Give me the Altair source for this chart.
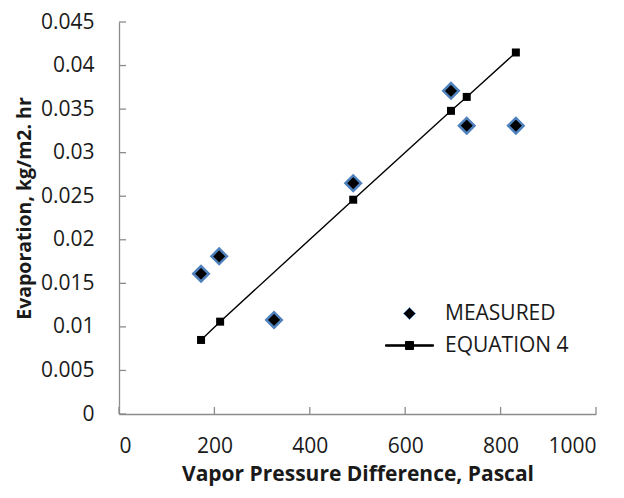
import altair as alt
import pandas as pd

# Measured data
meas_x = [172, 210, 325, 491, 696, 729, 832]
meas_y = [0.0161, 0.0181, 0.0108, 0.0265, 0.0371, 0.0331, 0.0331]

# Equation 4 predictions
eq_x = [172, 212, 491, 696, 729, 832]
eq_y = [0.0085, 0.0106, 0.0246, 0.0348, 0.0364, 0.0415]

series_names = ["MEASURED", "EQUATION 4"]
x_ticks = [0, 200, 400, 600, 800, 1000]
y_ticks = [0, 0.005, 0.01, 0.015, 0.02, 0.025, 0.03, 0.035, 0.04, 0.045]

meas_df = pd.DataFrame({"x": meas_x, "y": meas_y})
eq_df = pd.DataFrame({"x": eq_x, "y": eq_y})
leg_df = pd.DataFrame({"series": series_names})
xt_df = pd.DataFrame({"v": x_ticks})
yt_df = pd.DataFrame({"v": y_ticks})

FONT = "Open Sans"
AXIS_GREY = "#8c8c8c"
TXT = "#1a1a1a"
LBL = 21

xs = alt.Scale(domain=[0, 1000], nice=False, zero=False)
ys = alt.Scale(domain=[0, 0.045], nice=False, zero=False)

x_axis = alt.Axis(values=x_ticks, title="Vapor Pressure Difference, Pascal",
                  labelExpr="toString(datum.value)",
                  grid=False, ticks=False, domainColor=AXIS_GREY, domainWidth=1.3,
                  labelFont=FONT, labelFontSize=LBL, labelColor=TXT,
                  labelPadding=21, titleFont=FONT, titleFontSize=21,
                  titleFontWeight="bold", titleColor=TXT, titlePadding=7)
y_axis = alt.Axis(values=y_ticks, title="Evaporation, kg/m2. hr",
                  labelExpr="toString(datum.value)",
                  grid=False, ticks=False, domainColor=AXIS_GREY, domainWidth=1.3,
                  labelFont=FONT, labelFontSize=LBL, labelColor=TXT,
                  labelPadding=25, titleFont=FONT, titleFontSize=19.5,
                  titleFontWeight="bold", titleColor=TXT,
                  titleX=-89, titleY=186, titleBaseline="alphabetic")

base_axes = alt.Chart(meas_df).mark_point(opacity=0).encode(
    x=alt.X("x:Q", scale=xs, axis=x_axis),
    y=alt.Y("y:Q", scale=ys, axis=y_axis),
)

xticks = alt.Chart(xt_df).mark_rule(color=AXIS_GREY, strokeWidth=1.3).encode(
    x=alt.X("v:Q", scale=xs),
    y=alt.value(392), y2=alt.value(385),
)
yticks = alt.Chart(yt_df).mark_rule(color=AXIS_GREY, strokeWidth=1.3).encode(
    y=alt.Y("v:Q", scale=ys),
    x=alt.value(0), x2=alt.value(7),
)

eq_line = alt.Chart(eq_df).mark_line(color="black", strokeWidth=1.4).encode(
    x=alt.X("x:Q", scale=xs), y=alt.Y("y:Q", scale=ys)
)
eq_pts = alt.Chart(eq_df).mark_point(shape="square", filled=True, color="black",
                                      opacity=1, size=64).encode(
    x=alt.X("x:Q", scale=xs), y=alt.Y("y:Q", scale=ys)
)
meas_pts = alt.Chart(meas_df).mark_point(shape="diamond", filled=True, fill="black",
                                          stroke="#4f81bd", strokeWidth=2.5,
                                          opacity=1, size=240).encode(
    x=alt.X("x:Q", scale=xs), y=alt.Y("y:Q", scale=ys)
)

eq_symbol = "M-4,-0.12H4V0.12H-4Z M-0.67,-0.67H0.67V0.67H-0.67Z"
leg = alt.Legend(orient="none", legendX=280, legendY=281, title=None,
                 labelFont=FONT, labelFontSize=LBL, labelColor=TXT,
                 symbolSize=144, symbolStrokeWidth=1, symbolOpacity=1,
                 labelOffset=25, rowPadding=10)
legend_layer = alt.Chart(leg_df).mark_point(filled=True, opacity=0).encode(
    shape=alt.Shape("series:N", scale=alt.Scale(domain=series_names,
                                                range=["diamond", eq_symbol]),
                    legend=leg),
    stroke=alt.Stroke("series:N", scale=alt.Scale(domain=series_names,
                                                  range=["#4f81bd", "black"]),
                      legend=leg),
    fill=alt.value("black"),
)

chart = alt.layer(base_axes, xticks, yticks, eq_line, eq_pts, meas_pts, legend_layer).properties(
    width=477, height=392,
    padding={"left": 111, "top": 14, "right": 20, "bottom": 76},
    autosize=alt.AutoSizeParams(type="none"),
    background="white",
).configure_view(stroke=None)

chart.save("out.html", embed_options={"renderer": "svg", "actions": False})
